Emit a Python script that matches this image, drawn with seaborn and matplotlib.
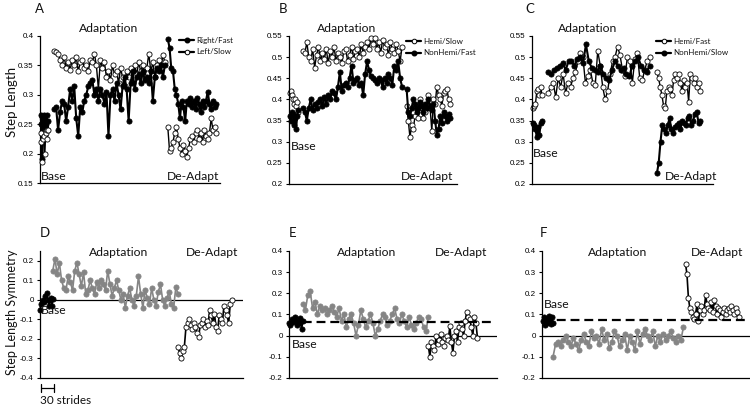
import numpy as np
import matplotlib
matplotlib.use("Agg")
import matplotlib.pyplot as plt
import seaborn as sns
from matplotlib.lines import Line2D

sns.set_theme(style="white")
plt.rcParams['font.family'] = ['Lato', 'DejaVu Sans']

# ---------------- Data ----------------
# Panel A  (Right/Fast = filled, Left/Slow = open)
A_base_fast = [0.265, 0.25, 0.19, 0.26, 0.265, 0.245, 0.25, 0.265, 0.24, 0.255]
A_base_slow = [0.22, 0.235, 0.185, 0.225, 0.23, 0.2, 0.235, 0.24, 0.225, 0.24]
A_adapt_fast = [0.275, 0.28, 0.24, 0.27, 0.29, 0.285, 0.255, 0.28, 0.31, 0.29, 0.315, 0.26,
                0.23, 0.28, 0.27, 0.29, 0.3, 0.315, 0.32, 0.325, 0.3, 0.31, 0.29, 0.31, 0.3,
                0.285, 0.305, 0.23, 0.3, 0.31, 0.29, 0.32, 0.3, 0.275, 0.315, 0.33, 0.31, 0.255,
                0.32, 0.34, 0.31, 0.33, 0.335, 0.32, 0.34, 0.325, 0.33, 0.32, 0.34, 0.29, 0.33,
                0.345, 0.34, 0.35, 0.33, 0.35]
A_adapt_slow = [0.375, 0.372, 0.37, 0.36, 0.35, 0.365, 0.345, 0.355, 0.343, 0.36, 0.35, 0.365,
                0.34, 0.355, 0.36, 0.345, 0.35, 0.34, 0.36, 0.355, 0.37, 0.35, 0.31, 0.36, 0.345,
                0.355, 0.33, 0.34, 0.325, 0.35, 0.335, 0.34, 0.32, 0.345, 0.33, 0.315, 0.34, 0.33,
                0.345, 0.32, 0.35, 0.335, 0.355, 0.34, 0.35, 0.33, 0.345, 0.37, 0.34, 0.355, 0.33,
                0.35, 0.36, 0.345, 0.368, 0.355]
A_de_fast = [0.395, 0.38, 0.345, 0.34, 0.31, 0.3, 0.285, 0.26, 0.29, 0.28, 0.255, 0.29, 0.285,
             0.295, 0.28, 0.29, 0.275, 0.295, 0.285, 0.27, 0.29, 0.28, 0.29, 0.305, 0.285, 0.275,
             0.29, 0.28, 0.285]
A_de_slow = [0.245, 0.205, 0.21, 0.22, 0.235, 0.245, 0.225, 0.21, 0.2, 0.215, 0.205, 0.195, 0.21,
             0.225, 0.23, 0.22, 0.235, 0.24, 0.225, 0.235, 0.22, 0.24, 0.23, 0.225, 0.235, 0.26,
             0.24, 0.245, 0.235]

# Panel B  (Hemi/Slow = open, NonHemi/Fast = filled)
B_base_open = [0.415, 0.42, 0.41, 0.40, 0.39, 0.40, 0.385, 0.395, 0.37]
B_base_fill = [0.36, 0.35, 0.37, 0.365, 0.34, 0.355, 0.33, 0.36, 0.375]
B_adapt_open = [0.515, 0.51, 0.535, 0.5, 0.49, 0.52, 0.475, 0.505, 0.525, 0.49, 0.51, 0.495,
                0.52, 0.485, 0.515, 0.5, 0.525, 0.49, 0.51, 0.5, 0.485, 0.515, 0.52, 0.49, 0.505,
                0.525, 0.495, 0.515, 0.52, 0.5, 0.53, 0.51, 0.525, 0.535, 0.52, 0.545, 0.53,
                0.545, 0.52, 0.535, 0.51, 0.54, 0.525, 0.53, 0.505, 0.535, 0.52, 0.51, 0.53,
                0.515, 0.49, 0.525]
B_adapt_fill = [0.38, 0.37, 0.35, 0.38, 0.4, 0.375, 0.39, 0.38, 0.395, 0.4, 0.385, 0.405, 0.39,
                0.41, 0.4, 0.42, 0.415, 0.4, 0.43, 0.465, 0.42, 0.435, 0.44, 0.43, 0.45, 0.48,
                0.44, 0.445, 0.45, 0.435, 0.44, 0.41, 0.46, 0.49, 0.47, 0.455, 0.45, 0.445, 0.44,
                0.45, 0.445, 0.43, 0.45, 0.44, 0.46, 0.45, 0.435, 0.48, 0.47, 0.49, 0.45, 0.43]
B_de_open = [0.385, 0.35, 0.31, 0.34, 0.33, 0.36, 0.38, 0.355, 0.4, 0.38, 0.355, 0.37, 0.39,
             0.41, 0.38, 0.325, 0.4, 0.39, 0.43, 0.41, 0.4, 0.385, 0.415, 0.42, 0.425, 0.4, 0.39]
B_de_fill = [0.425, 0.37, 0.36, 0.38, 0.4, 0.39, 0.37, 0.38, 0.395, 0.385, 0.37, 0.39, 0.38,
             0.4, 0.385, 0.375, 0.39, 0.35, 0.315, 0.33, 0.36, 0.345, 0.37, 0.36, 0.35, 0.365,
             0.355]

# Panel C  (Hemi/Fast = open, NonHemi/Slow = filled)
C_base_open = [0.38, 0.385, 0.39, 0.42, 0.425, 0.41, 0.43, 0.41]
C_base_fill = [0.345, 0.34, 0.33, 0.31, 0.335, 0.315, 0.345, 0.35]
C_adapt_open = [0.415, 0.43, 0.44, 0.405, 0.45, 0.43, 0.46, 0.415, 0.44, 0.43, 0.45, 0.465, 0.49,
                0.51, 0.5, 0.44, 0.455, 0.47, 0.44, 0.435, 0.515, 0.48, 0.43, 0.40, 0.42, 0.46,
                0.49, 0.50, 0.525, 0.505, 0.47, 0.455, 0.50, 0.49, 0.44, 0.495, 0.51, 0.45,
                0.445, 0.47, 0.49, 0.50]
C_adapt_fill = [0.465, 0.46, 0.47, 0.475, 0.48, 0.485, 0.47, 0.49, 0.49, 0.48, 0.495, 0.50,
                0.485, 0.53, 0.49, 0.475, 0.47, 0.465, 0.48, 0.46, 0.45, 0.445, 0.47, 0.49, 0.48,
                0.47, 0.475, 0.46, 0.455, 0.48, 0.49, 0.50, 0.48, 0.47, 0.465, 0.48]
C_de_open = [0.465, 0.45, 0.43, 0.41, 0.385, 0.38, 0.42, 0.43, 0.425, 0.41, 0.445, 0.46, 0.45,
             0.46, 0.44, 0.42, 0.445, 0.43, 0.44, 0.395, 0.46, 0.45, 0.44, 0.45, 0.43, 0.44, 0.42]
C_de_fill = [0.225, 0.25, 0.30, 0.34, 0.33, 0.32, 0.34, 0.355, 0.33, 0.32, 0.335, 0.34, 0.345,
             0.33, 0.35, 0.345, 0.34, 0.355, 0.36, 0.34, 0.35, 0.365, 0.37, 0.345, 0.35]

# Panels D-F  (step length symmetry)
D_base = [-0.05, -0.02, 0.0, -0.01, 0.02, 0.035, 0.0, -0.03, 0.01, -0.03, 0.005]
D_adapt = [0.15, 0.21, 0.13, 0.19, 0.1, 0.06, 0.05, 0.12, 0.09, 0.05, 0.15, 0.19, 0.13, 0.07,
           0.14, 0.03, 0.05, 0.1, 0.06, 0.03, 0.09, 0.06, 0.1, 0.08, 0.05, 0.15, 0.08, 0.02,
           0.06, 0.1, 0.05, 0.0, 0.03, -0.04, 0.02, 0.06, 0.0, -0.03, 0.02, 0.12, 0.03, -0.04,
           0.05, 0.01, -0.02, 0.06, 0.0, -0.03, 0.04, 0.08, 0.0, -0.03, 0.01, 0.04, -0.02, -0.04,
           0.065, 0.03]
D_de = [-0.24, -0.27, -0.3, -0.26, -0.24, -0.14, -0.12, -0.1, -0.13, -0.15, -0.12, -0.14, -0.17,
        -0.19, -0.13, -0.12, -0.1, -0.14, -0.11, -0.13, -0.05, -0.08, -0.12, -0.07, -0.14, -0.16,
        -0.08, -0.1, -0.12, -0.03, -0.05, -0.08, -0.12, -0.02, 0.0]

E_base = [0.06, 0.05, 0.08, 0.065, 0.09, 0.07, 0.05, 0.06, 0.085, 0.03, 0.07]
E_adapt = [0.15, 0.12, 0.19, 0.21, 0.13, 0.16, 0.1, 0.14, 0.12, 0.13, 0.1, 0.12, 0.14, 0.11,
           0.09, 0.13, 0.07, 0.1, 0.04, 0.08, 0.1, 0.06, 0.0, 0.05, 0.12, 0.08, 0.04, 0.07, 0.1,
           0.06, 0.0, 0.03, 0.07, 0.1, 0.09, 0.05, 0.07, 0.1, 0.13, 0.08, 0.06, 0.1, 0.07, 0.04,
           0.09, 0.05, 0.03, 0.06, 0.09, 0.08, 0.04, 0.02, 0.09]
E_de = [-0.05, -0.1, -0.03, -0.05, -0.07, 0.0, -0.04, -0.02, 0.01, -0.03, -0.05, -0.01, 0.0,
        -0.02, 0.045, -0.03, -0.08, 0.0, 0.02, -0.03, 0.04, 0.06, 0.03, 0.0, 0.07, 0.11, 0.09,
        0.08, 0.04, 0.0, 0.09, 0.06, -0.01]
E_baseline = 0.065

F_base = [0.07, 0.09, 0.05, 0.08, 0.06, 0.095, 0.07, 0.055, 0.09, 0.06]
F_adapt = [-0.1, -0.04, -0.03, -0.05, -0.02, 0.0, -0.03, -0.05, -0.01, -0.04, -0.07, -0.02, 0.01,
           -0.03, -0.05, 0.02, -0.01, 0.0, -0.04, 0.03, -0.02, 0.01, -0.06, -0.03, 0.02, 0.0,
           -0.05, -0.02, 0.01, -0.07, 0.0, -0.03, -0.07, 0.02, -0.04, 0.01, 0.03, 0.0, -0.02,
           0.02, -0.05, 0.0, -0.03, 0.01, -0.02, 0.0, 0.02, -0.01, -0.03, 0.0, -0.02, 0.04]
F_de = [0.34, 0.29, 0.18, 0.13, 0.11, 0.09, 0.08, 0.1, 0.15, 0.07, 0.12, 0.14, 0.1, 0.12, 0.19,
        0.15, 0.13, 0.12, 0.16, 0.11, 0.17, 0.14, 0.1, 0.13, 0.12, 0.09, 0.11, 0.13, 0.1, 0.12,
        0.13, 0.11, 0.14, 0.12, 0.1, 0.13, 0.11, 0.09]
F_baseline = 0.075

legend_A = ["Right/Fast", "Left/Slow"]
legend_B = ["Hemi/Slow", "NonHemi/Fast"]
legend_C = ["Hemi/Fast", "NonHemi/Slow"]

# ---------------- Figure ----------------
W, H = 750, 407
fig = plt.figure(figsize=(W / 100, H / 100), dpi=100)


def ax_px(x0, x1, ytop, ybot):
    return fig.add_axes([x0 / W, (H - ybot) / H, (x1 - x0) / W, (ybot - ytop) / H])


GRAY = "#858585"
MS = 3.7


def seg(ax, vals, x0, x1, kind, color="black", lw=None, z=3):
    x = np.linspace(x0, x1, len(vals))
    if kind == "open":
        sns.lineplot(x=x, y=vals, ax=ax, color="black", lw=lw or 1.0, marker="o", ms=MS,
                     markerfacecolor="white", markeredgecolor="black", mew=0.6,
                     zorder=z, clip_on=False, estimator=None, sort=False)
    else:
        sns.lineplot(x=x, y=vals, ax=ax, color=color, lw=lw or 1.5, marker="o", ms=MS,
                     markerfacecolor=color, markeredgecolor=color, mew=0.6,
                     zorder=z, clip_on=False, estimator=None, sort=False)


def style(ax, ylim, ticks, fmt):
    ax.set_xlim(0, 100)
    ax.set_ylim(*ylim)
    ax.set_yticks(ticks)
    ax.set_yticklabels([fmt(t) for t in ticks], fontsize=5.8, family="Liberation Sans")
    ax.set_xticks([])
    for s in ["top", "right"]:
        ax.spines[s].set_visible(False)
    for s in ["left", "bottom"]:
        ax.spines[s].set_color("black")
        ax.spines[s].set_linewidth(0.9)
    ax.tick_params(axis="y", direction="out", length=2.5, width=0.8, pad=2, left=True,
                   colors="black")
    ax.set_facecolor("none")
    ax.grid(False)


def fmt_top(t):
    return ("%.2f" % t).rstrip("0").rstrip(".") if t != 0 else "0"


def fmt_bot(t):
    s = ("%.1f" % t)
    return "0" if abs(t) < 1e-9 else s


TXT = 8.7

# ---- Panel A ----
axA = ax_px(40, 220, 36, 183)
seg(axA, A_adapt_slow, 7.8, 69.4, "open", z=2)
seg(axA, A_adapt_fast, 7.8, 69.4, "fill", z=3)
seg(axA, A_base_fast, 0.3, 4.6, "fill")
seg(axA, A_base_slow, 0.3, 4.6, "open", z=4)
seg(axA, A_de_slow, 71, 98, "open", z=2)
seg(axA, A_de_fast, 71, 98, "fill", z=3)
style(axA, (0.15, 0.40), [0.15, 0.2, 0.25, 0.3, 0.35, 0.4], fmt_top)

# ---- Panel B ----
axB = ax_px(289, 457, 36, 184)
seg(axB, B_adapt_open, 8.3, 67.3, "open", z=2)
seg(axB, B_adapt_fill, 8.3, 67.3, "fill", z=3)
seg(axB, B_base_open, 0.3, 5.5, "open", z=2)
seg(axB, B_base_fill, 0.3, 5.5, "fill", z=3)
seg(axB, B_de_open, 70, 96, "open", z=2)
seg(axB, B_de_fill, 70, 96, "fill", z=3)
style(axB, (0.2, 0.55), [0.2, 0.25, 0.3, 0.35, 0.4, 0.45, 0.5, 0.55], fmt_top)

# ---- Panel C ----
axC = ax_px(532, 713, 36, 184)
seg(axC, C_adapt_open, 9, 65, "open", z=2)
seg(axC, C_adapt_fill, 9, 65, "fill", z=3)
seg(axC, C_base_open, 0.5, 5.5, "open", z=2)
seg(axC, C_base_fill, 0.5, 5.5, "fill", z=3)
seg(axC, C_de_open, 69, 93, "open", z=2)
seg(axC, C_de_fill, 69, 93, "fill", z=3)
style(axC, (0.2, 0.55), [0.2, 0.25, 0.3, 0.35, 0.4, 0.45, 0.5, 0.55], fmt_top)

# ---- Panel D ----
axD = ax_px(40, 243, 251, 378)
axD.axhline(0, color="black", lw=0.9, zorder=1)
seg(axD, D_base, 0.0, 6.5, "fill", lw=1.2)
seg(axD, D_adapt, 6.3, 68, "fill", color=GRAY, lw=1.2)
seg(axD, D_de, 68, 94.5, "open", lw=1.2)
style(axD, (-0.4, 0.25), [-0.4, -0.3, -0.2, -0.1, 0, 0.1, 0.2], fmt_bot)

# ---- Panel E ----
axE = ax_px(289, 497, 251, 378)
axE.axhline(0, color="black", lw=0.9, zorder=1)
axE.plot([0, 99], [E_baseline, E_baseline], color="black", lw=1.6, ls=(0, (4, 2.2)), zorder=5)
seg(axE, E_base, 0.0, 6.7, "fill", lw=1.2)
seg(axE, E_adapt, 6.7, 67, "fill", color=GRAY, lw=1.2)
seg(axE, E_de, 67, 90.6, "open", lw=1.2)
style(axE, (-0.2, 0.4), [-0.2, -0.1, 0, 0.1, 0.2, 0.3, 0.4], fmt_bot)

# ---- Panel F ----
axF = ax_px(542, 750, 251, 378)
axF.axhline(0, color="black", lw=0.9, zorder=1)
axF.plot([0.5, 99.5], [F_baseline, F_baseline], color="black", lw=1.6, ls=(0, (4, 2.2)), zorder=5)
seg(axF, F_base, 0.5, 5.3, "fill", lw=1.2)
seg(axF, F_adapt, 5.3, 68, "fill", color=GRAY, lw=1.2)
seg(axF, F_de, 69, 94.5, "open", lw=1.2)
style(axF, (-0.2, 0.4), [-0.2, -0.1, 0, 0.1, 0.2, 0.3, 0.4], fmt_bot)


# ---------------- Text ----------------
def ftxt(x, y, s, size=TXT, ha="left", va="center", **kw):
    fig.text(x / W, 1 - y / H, s, fontsize=size, ha=ha, va=va, color="#111111", **kw)


for lab, x, y in [("A", 35, 9), ("B", 279, 9), ("C", 525, 9),
                  ("D", 40, 233), ("E", 289, 233), ("F", 540, 233)]:
    ftxt(x, y, lab, size=9.5)

ftxt(12, 102, "Step Length", size=9.5, ha="center", rotation=90)
ftxt(12, 312, "Step Length Symmetry", size=9, ha="center", rotation=90)

ftxt(109, 28, "Adaptation", ha="center")
ftxt(347, 28, "Adaptation", ha="center")
ftxt(588, 28, "Adaptation", ha="center")
ftxt(41, 176, "Base")
ftxt(219, 176, "De-Adapt", ha="right")
ftxt(291, 147, "Base")
ftxt(453, 176, "De-Adapt", ha="right")
ftxt(533, 153, "Base")
ftxt(717, 176, "De-Adapt", ha="right")

ftxt(119, 253, "Adaptation", ha="center")
ftxt(212, 253, "De-Adapt", ha="center")
ftxt(41, 310, "Base")
ftxt(367, 253, "Adaptation", ha="center")
ftxt(461, 253, "De-Adapt", ha="center")
ftxt(292, 345, "Base")
ftxt(618, 253, "Adaptation", ha="center")
ftxt(717, 253, "De-Adapt", ha="center")
ftxt(544, 304, "Base")


# Legends
def make_legend(ax, labels, first_filled, x, y):
    fill_h = Line2D([], [], color="black", lw=1.6, marker="o", ms=3.3,
                    markerfacecolor="black", markeredgecolor="black")
    open_h = Line2D([], [], color="black", lw=1.6, marker="o", ms=3.3,
                    markerfacecolor="white", markeredgecolor="black", mew=0.7)
    hs = [fill_h, open_h] if first_filled else [open_h, fill_h]
    leg = ax.legend(hs, labels, loc="upper left", bbox_to_anchor=(x / W, 1 - y / H),
                    bbox_transform=fig.transFigure, frameon=False, fontsize=5.8,
                    handlelength=1.9, handletextpad=0.2, labelspacing=0.55,
                    borderpad=0, borderaxespad=0)
    for t in leg.get_texts():
        t.set_color("#111111")


make_legend(axA, legend_A, True, 179, 37)
make_legend(axB, legend_B, False, 406, 38)
make_legend(axC, legend_C, False, 656, 38)

# 30 strides scale bar
fig.add_artist(Line2D([41 / W, 54 / W], [1 - 388 / H] * 2, color="black", lw=0.9))
fig.add_artist(Line2D([41 / W] * 2, [1 - 384 / H, 1 - 392 / H], color="black", lw=0.9))
fig.add_artist(Line2D([54 / W] * 2, [1 - 384 / H, 1 - 392 / H], color="black", lw=0.9))
ftxt(40, 401, "30 strides", size=8.5)

fig.savefig("out.png", dpi=100)
